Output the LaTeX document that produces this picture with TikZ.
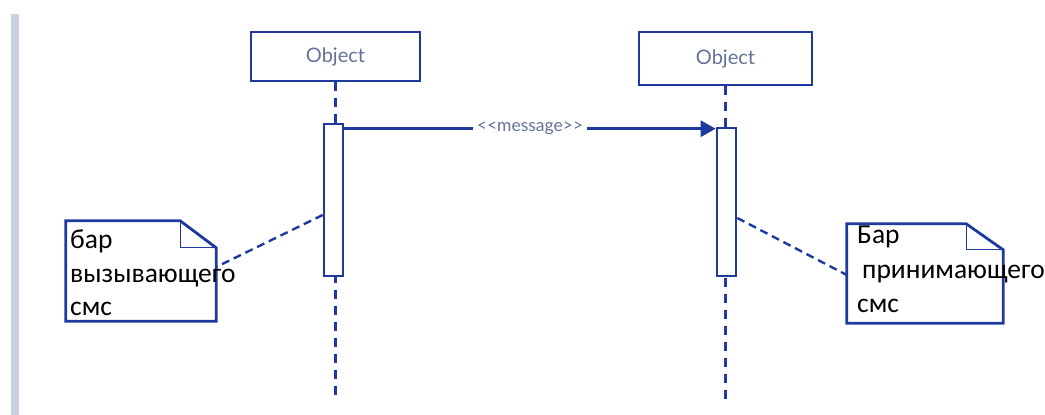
\documentclass[tikz,border=0pt]{standalone}
\usepackage{fontspec}
\setmainfont{Carlito}
\newfontfamily\latofont{Lato}
\usetikzlibrary{arrows.meta,calc}
\definecolor{umlblue}{RGB}{30,58,158}
\definecolor{umltext}{RGB}{100,115,155}
\definecolor{sidebar}{RGB}{200,208,225}
\tikzset{
  objbox/.style={draw=umlblue, line width=2.8pt, fill=white, inner sep=0pt, font=\latofont\fontsize{20}{22}\selectfont, text=umltext},
  actbar/.style={draw=umlblue, line width=2.6pt, fill=white, minimum width=19pt, inner sep=0pt},
  lifeline/.style={draw=umlblue, line width=2.6pt, dash pattern=on 9pt off 7pt},
  notearea/.style={inner sep=0pt},
  noteline/.style={draw=umlblue, line width=2.8pt, line join=miter},
  foldline/.style={draw=umlblue, line width=1pt},
  notetext/.style={anchor=base west, inner sep=0pt, font=\fontsize{27.5}{33}\selectfont, text=black},
  msgline/.style={draw=umlblue, line width=2.8pt, -{Triangle[length=15pt,width=16pt]}},
  msglabel/.style={fill=white, inner sep=4pt, font=\latofont\fontsize{17.5}{19}\selectfont, text=umltext},
  anchorline/.style={draw=umlblue, line width=2.4pt, dash pattern=on 8pt off 5pt}
}
\begin{document}
\begin{tikzpicture}[x=1pt,y=-1pt]
\useasboundingbox (0,0) rectangle (1045,415);
\fill[sidebar] (11,14) rectangle (19,415);

% objects
\node[objbox, minimum width=169pt, minimum height=49pt] (o1) at (335.5,56.5) {Object};
\node[objbox, minimum width=173pt, minimum height=53pt] (o2) at (725.5,58.5) {Object};

% lifelines
\coordinate (l1) at (335.5,400);
\coordinate (l2) at (725.5,406);
\draw[lifeline] (o1.south) -- (l1);
\draw[lifeline] (o2.south) -- (l2);

% activation bars
\node[actbar, minimum height=152pt] (a1) at (333.5,200) {};
\node[actbar, minimum height=148pt] (a2) at (726.5,202) {};

% message
\coordinate (m1) at ($(a1.north east)+(0,6)$);
\coordinate (m2) at (a2.west |- m1);
\draw[msgline] (m1) -- node[msglabel] (ml) {<<message>>} (m2);

% notes
\node[notearea, minimum width=150pt, minimum height=100pt] (n1) at (141,271) {};
\draw[noteline] ($(n1.north east)+(-36,0)$) -- (n1.north west) -- (n1.south west) -- (n1.south east) -- ($(n1.north east)+(0,27)$) -- cycle;
\draw[foldline] ($(n1.north east)+(-36,0)$) -- ($(n1.north east)+(-36,27)$) -- ($(n1.north east)+(0,27)$);

\node[notearea, minimum width=156pt, minimum height=99pt] (n2) at (925,273.5) {};
\draw[noteline] ($(n2.north east)+(-37,0)$) -- (n2.north west) -- (n2.south west) -- (n2.south east) -- ($(n2.north east)+(0,26)$) -- cycle;
\draw[foldline] ($(n2.north east)+(-37,0)$) -- ($(n2.north east)+(-37,26)$) -- ($(n2.north east)+(0,26)$);

% note texts
\node[notetext] (t1a) at (70,248) {бар};
\node[notetext] (t1b) at (70,282) {вызывающего};
\node[notetext] (t1c) at (70,315) {смс};
\node[notetext] (t2a) at (857,243) {Бар};
\node[notetext] (t2b) at (862,278) {принимающего};
\node[notetext] (t2c) at (857,312) {смс};

% note anchors
\coordinate (c1) at ($(a1.west)+(0,15)$);
\coordinate (c2) at ($(a2.east)+(0,16)$);
\draw[anchorline] (c1) -- ($(n1.east)+(0,-4)$);
\draw[anchorline] (c2) -- ($(n2.west)+(0,1.5)$);
\end{tikzpicture}
\end{document}
